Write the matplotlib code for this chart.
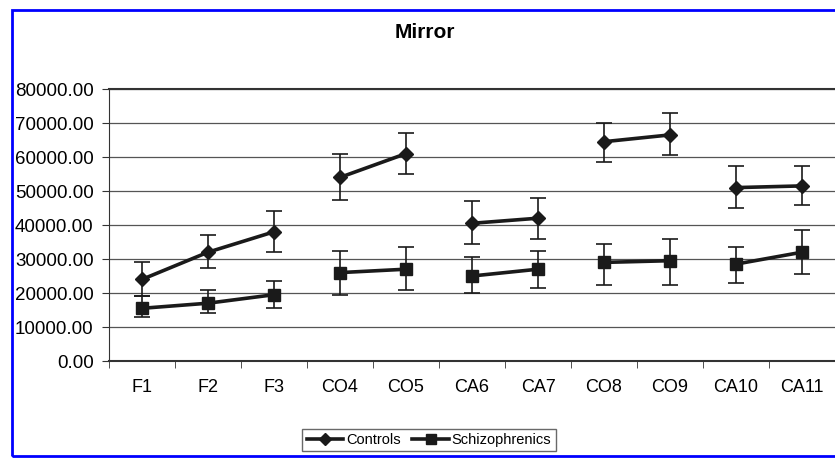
import numpy as np
import matplotlib.pyplot as plt
from matplotlib.patches import Rectangle
from matplotlib.lines import Line2D

plt.rcParams['font.family'] = ['Liberation Sans', 'DejaVu Sans']

conditions = ['F1', 'F2', 'F3', 'CO4', 'CO5', 'CA6', 'CA7', 'CO8', 'CO9', 'CA10', 'CA11']
groups = [0, 0, 0, 1, 1, 2, 2, 3, 3, 4, 4]

controls = [24000, 32000, 38000, 54000, 61000, 40500, 42000, 64500, 66500, 51000, 51500]
controls_lo = [19000, 27500, 32000, 47500, 55000, 34500, 36000, 58500, 60500, 45000, 46000]
controls_hi = [29000, 37000, 44000, 61000, 67000, 47000, 48000, 70000, 73000, 57500, 57500]

schizo = [15500, 17000, 19500, 26000, 27000, 25000, 27000, 29000, 29500, 28500, 32000]
schizo_lo = [13000, 14000, 15500, 19500, 21000, 20000, 21500, 22500, 22500, 23000, 25500]
schizo_hi = [19000, 21000, 23500, 32500, 33500, 30500, 32500, 34500, 36000, 33500, 38500]

fig = plt.figure(figsize=(8.35, 4.58), dpi=100)
ax = fig.add_axes([109/835, 1-361/458, 1-109/835, (361-89)/458])

x = np.arange(len(conditions))
g = np.array(groups)

for vals, lo, hi, mk, ms in [(controls, controls_lo, controls_hi, 'D', 7),
                             (schizo, schizo_lo, schizo_hi, 's', 8)]:
    vals = np.array(vals)
    yerr = [vals - np.array(lo), np.array(hi) - vals]
    ax.errorbar(x, vals, yerr=yerr, fmt='none', ecolor='#1a1a1a',
                elinewidth=1.2, capsize=6, capthick=1.2, zorder=2)
    for k in np.unique(g):
        m = g == k
        ax.plot(x[m], vals[m], color='#1a1a1a', lw=2.6, marker=mk,
                ms=ms, zorder=3)

ax.set_xlim(-0.5, len(conditions) - 0.5)
ax.set_ylim(0, 80000)
ax.set_yticks(np.arange(0, 80001, 10000))
ax.set_yticklabels(['%.2f' % v for v in np.arange(0, 80001, 10000)], fontsize=13.5)
ax.yaxis.grid(True, color='#555555', lw=0.9)
ax.set_axisbelow(True)

ax.set_xticks(x)
ax.set_xticklabels(conditions, fontsize=13)
ax.tick_params(axis='x', length=0, pad=13)
ax.set_xticks(np.arange(-0.5, len(conditions), 1), minor=True)
ax.tick_params(axis='x', which='minor', length=5, direction='out', color='#333333')
ax.tick_params(axis='y', length=5, direction='out', color='#333333', pad=6)

ax.spines['right'].set_visible(False)
for s in ['top', 'left', 'bottom']:
    ax.spines[s].set_color('#333333')
ax.spines['bottom'].set_linewidth(1.5)
ax.spines['top'].set_linewidth(1.5)

fig.text(425/835, 1-33/458, 'Mirror', ha='center', va='center',
         fontsize=15, fontweight='bold')

handles = [Line2D([], [], color='#1a1a1a', lw=2.6, marker='D', ms=6),
           Line2D([], [], color='#1a1a1a', lw=2.6, marker='s', ms=7)]
leg = fig.legend(handles, ['Controls', 'Schizophrenics'], loc='center',
                 bbox_to_anchor=(429/835, 1-440/458), ncol=2, fontsize=10.5,
                 frameon=True, fancybox=False, handlelength=2.5,
                 handletextpad=0.2, columnspacing=0.8, borderpad=0.3,
                 borderaxespad=0)
leg.get_frame().set_edgecolor('#444444')
leg.get_frame().set_linewidth(1.0)

fig.patches.append(Rectangle((12/835, 1-456/458), 1.2, (456-10)/458,
                             transform=fig.transFigure, fill=False,
                             edgecolor='#0000ff', lw=2, zorder=0))

fig.savefig('out.png', dpi=100)
